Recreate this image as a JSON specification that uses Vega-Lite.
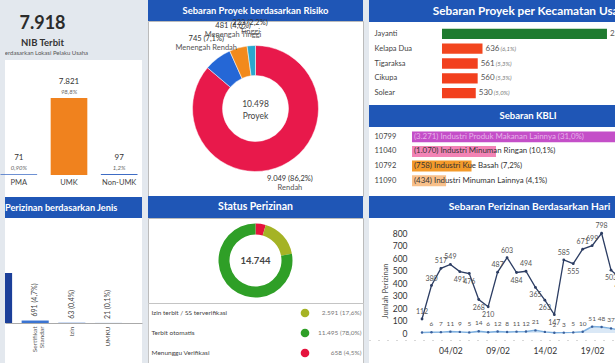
{
  "$schema": "https://vega.github.io/schema/vega-lite/v6.json",
  "background": "#e3e8ee",
  "padding": 0,
  "spacing": 5,
  "resolve": {"scale": {"color": "independent"}},
  "config": {
    "view": {"stroke": null, "fill": "white"},
    "font": "Lato",
    "axis": {"labelFont": "Lato", "titleFont": "Lato"},
    "text": {"font": "Lato"}
  },
  "hconcat": [
    {
      "bounds": "flush",
      "spacing": 0,
      "resolve": {"scale": {"color": "independent"}},
      "vconcat": [
        {
          "width": 137,
          "height": 60,
          "data": {"values": [{"angka": "7.918", "judul": "NIB Terbit", "keterangan": "Berdasarkan Lokasi Pelaku Usaha"}]},
          "layer": [
            {"mark": {"type": "text", "fontSize": 18, "fontWeight": "bold", "color": "#2b2b2b", "dx": -31, "dy": -6, "clip": true}, "encoding": {"text": {"field": "angka"}}},
            {"mark": {"type": "text", "fontSize": 9.5, "fontWeight": "bold", "color": "#333333", "dx": -31, "dy": 13, "clip": true}, "encoding": {"text": {"field": "judul"}}},
            {"mark": {"type": "text", "fontSize": 6, "color": "#555555", "dx": -29, "dy": 23, "clip": true}, "encoding": {"text": {"field": "keterangan"}}}
          ]
        },
        {
          "width": 137,
          "height": 137,
          "data": {"values": [
            {"kategori": "PMA", "jumlah": 71, "teks": "71", "persen": "0,90%"},
            {"kategori": "UMK", "jumlah": 7821, "teks": "7.821", "persen": "98,8%"},
            {"kategori": "Non-UMK", "jumlah": 97, "teks": "97", "persen": "1,2%"}
          ]},
          "encoding": {
            "x": {"field": "kategori", "type": "nominal", "sort": null, "scale": {"paddingInner": 0.27, "paddingOuter": 0}, "axis": {"title": null, "labelAngle": 0, "domain": false, "ticks": false, "labelFontSize": 7.5, "labelColor": "#444444", "labelPadding": 3, "offset": -22, "labelOffset": -4.5}},
            "y": {"field": "jumlah", "type": "quantitative", "scale": {"domain": [-2234, 11680], "nice": false, "zero": false}, "axis": null}
          },
          "layer": [
            {"mark": {"type": "bar", "xOffset": -4.5}, "encoding": {"color": {"field": "kategori", "type": "nominal", "scale": {"domain": ["PMA", "UMK", "Non-UMK"], "range": ["#3e6cc4", "#f0821e", "#3e6cc4"]}, "legend": null}}},
            {"mark": {"type": "text", "dy": -16, "dx": -4.5, "fontSize": 8, "color": "#333333"}, "encoding": {"text": {"field": "teks"}}},
            {"mark": {"type": "text", "dy": -6, "dx": -4.5, "fontSize": 6, "fontStyle": "italic", "color": "#666666"}, "encoding": {"text": {"field": "persen"}}}
          ]
        },
        {
          "width": 137,
          "height": 21,
          "view": {"fill": "#1f56b6"},
          "data": {"values": [{"judul": "Sebaran Perizinan berdasarkan Jenis"}]},
          "mark": {"type": "text", "color": "white", "fontWeight": "bold", "fontSize": 9.2, "dx": -30, "clip": true},
          "encoding": {"text": {"field": "judul"}}
        },
        {
          "width": 137,
          "height": 145,
          "data": {"values": [
            {"jenis": "Berbasis Risiko", "jumlah": 13969, "teks": "13.969 (94,7%)"},
            {"jenis": "Sertifikat Standar", "jumlah": 691, "teks": "691 (4,7%)"},
            {"jenis": "Izin", "jumlah": 63, "teks": "63 (0,4%)"},
            {"jenis": "UMKU", "jumlah": 21, "teks": "21 (0,1%)"}
          ]},
          "encoding": {
            "x": {"field": "jenis", "type": "nominal", "sort": null, "scale": {"paddingInner": 0.26, "paddingOuter": -0.18, "align": 0}, "axis": {"title": null, "values": ["Sertifikat Standar", "Izin", "UMKU"], "labelAngle": 270, "labelExpr": "split(datum.label, ' ')", "domain": true, "domainColor": "#aaaaaa", "ticks": false, "labelFontSize": 6.5, "labelColor": "#555555", "labelPadding": 3, "labelLineHeight": 7, "labelOffset": -20, "offset": -40}},
            "y": {"field": "jumlah", "type": "quantitative", "scale": {"domain": [-11176, 29336], "nice": false, "zero": false}, "axis": null}
          },
          "layer": [
            {"mark": {"type": "bar", "xOffset": -20, "clip": true}, "encoding": {"color": {"field": "jenis", "type": "nominal", "scale": {"domain": ["Berbasis Risiko", "Sertifikat Standar", "Izin", "UMKU"], "range": ["#1b3f99", "#3b74d2", "#3b74d2", "#3b74d2"]}, "legend": null}}},
            {"transform": [{"filter": "datum.jenis != 'Berbasis Risiko'"}], "mark": {"type": "text", "angle": 270, "align": "left", "baseline": "middle", "dx": 4, "xOffset": -20, "fontSize": 7, "color": "#444444", "clip": true}, "encoding": {"text": {"field": "teks"}}}
          ]
        }
      ]
    },
    {
      "bounds": "flush",
      "spacing": 0,
      "resolve": {"scale": {"color": "independent"}},
      "vconcat": [
        {
          "width": 215,
          "height": 21,
          "view": {"fill": "#1f56b6"},
          "data": {"values": [{"judul": "Sebaran Proyek berdasarkan Risiko"}]},
          "mark": {"type": "text", "color": "white", "fontWeight": "bold", "fontSize": 9.4, "clip": true},
          "encoding": {"text": {"field": "judul"}}
        },
        {
          "width": 215,
          "height": 175,
          "view": {"stroke": "#bbbbbb", "fill": "white"},
          "layer": [
            {
              "data": {"values": [
                {"risiko": "Rendah", "jumlah": 9049, "teks": "9.049 (86,2%)"},
                {"risiko": "Menengah Rendah", "jumlah": 745, "teks": "745 (7,1%)"},
                {"risiko": "Menengah Tinggi", "jumlah": 481, "teks": "481 (4,6%)"},
                {"risiko": "Tinggi", "jumlah": 223, "teks": "223 (2,2%)"}
              ]},
              "encoding": {
                "theta": {"field": "jumlah", "type": "quantitative", "stack": true},
                "order": {"field": "jumlah", "type": "quantitative", "sort": "descending"}
              },
              "layer": [
                {"mark": {"type": "arc", "innerRadius": 33, "outerRadius": 63, "stroke": "white", "strokeWidth": 0.5}, "encoding": {"color": {"field": "risiko", "type": "nominal", "scale": {"domain": ["Rendah", "Menengah Rendah", "Menengah Tinggi", "Tinggi"], "range": ["#e8194b", "#2567d6", "#f28a1c", "#2aa7cf"]}, "legend": null}}},
                {"mark": {"type": "text", "radius": 82, "fontSize": 7.5, "color": "#333333", "dy": -4}, "encoding": {"text": {"field": "teks"}}},
                {"mark": {"type": "text", "radius": 82, "fontSize": 7.5, "color": "#555555", "dy": 5}, "encoding": {"text": {"field": "risiko"}}}
              ]
            },
            {
              "data": {"values": [{"angka": "10.498", "satuan": "Proyek"}]},
              "layer": [
                {"mark": {"type": "text", "fontSize": 8.5, "color": "#444444", "dy": -5}, "encoding": {"text": {"field": "angka"}}},
                {"mark": {"type": "text", "fontSize": 8.5, "color": "#444444", "dy": 7}, "encoding": {"text": {"field": "satuan"}}}
              ]
            }
          ]
        },
        {
          "width": 215,
          "height": 22,
          "view": {"fill": "#1f56b6"},
          "data": {"values": [{"judul": "Status Perizinan"}]},
          "mark": {"type": "text", "color": "white", "fontWeight": "bold", "fontSize": 10.5, "clip": true},
          "encoding": {"text": {"field": "judul"}}
        },
        {
          "width": 215,
          "height": 85,
          "view": {"stroke": "#bbbbbb", "fill": "white"},
          "layer": [
            {
              "data": {"values": [
                {"status": "Menunggu Verifikasi", "jumlah": 658},
                {"status": "Izin terbit / SS terverifikasi", "jumlah": 2591},
                {"status": "Terbit otomatis", "jumlah": 11495}
              ]},
              "mark": {"type": "arc", "innerRadius": 26, "outerRadius": 37},
              "encoding": {
                "theta": {"field": "jumlah", "type": "quantitative", "stack": true},
                "order": {"field": "jumlah", "type": "quantitative", "sort": "ascending"},
                "color": {"field": "status", "type": "nominal", "scale": {"domain": ["Izin terbit / SS terverifikasi", "Terbit otomatis", "Menunggu Verifikasi"], "range": ["#a5b325", "#2f9f27", "#e5133d"]}, "legend": null}
              }
            },
            {
              "data": {"values": [{"angka": "14.744"}]},
              "mark": {"type": "text", "fontSize": 9.5, "fontWeight": "bold", "color": "#444444"},
              "encoding": {"text": {"field": "angka"}}
            }
          ]
        },
        {
          "width": 215,
          "height": 60,
          "view": {"stroke": "#c4c4c4", "fill": "white"},
          "data": {"values": [
            {"status": "Izin terbit / SS terverifikasi", "teks": "2.591 (17,6%)"},
            {"status": "Terbit otomatis", "teks": "11.495 (78,0%)"},
            {"status": "Menunggu Verifikasi", "teks": "658 (4,5%)"}
          ]},
          "encoding": {
            "y": {"field": "status", "type": "nominal", "sort": ["Izin terbit / SS terverifikasi", "Terbit otomatis", "Menunggu Verifikasi"], "scale": {"paddingInner": 0, "paddingOuter": 0.15}, "axis": null}
          },
          "layer": [
            {"mark": {"type": "text", "align": "left", "dx": -104, "fontSize": 6.5, "color": "#444444"}, "encoding": {"text": {"field": "status"}}},
            {"mark": {"type": "circle", "size": 75, "opacity": 1, "xOffset": 49.5}, "encoding": {"color": {"field": "status", "type": "nominal", "scale": {"domain": ["Izin terbit / SS terverifikasi", "Terbit otomatis", "Menunggu Verifikasi"], "range": ["#a5b325", "#2f9f27", "#e5133d"]}, "legend": null}}},
            {"mark": {"type": "text", "align": "right", "dx": 106, "fontSize": 6.5, "color": "#777777"}, "encoding": {"text": {"field": "teks"}}}
          ]
        }
      ]
    },
    {
      "bounds": "flush",
      "spacing": 0,
      "resolve": {"scale": {"color": "independent"}},
      "vconcat": [
        {
          "width": 253,
          "height": 22,
          "view": {"fill": "#1f56b6"},
          "data": {"values": [{"judul": "Sebaran Proyek per Kecamatan Usaha"}]},
          "mark": {"type": "text", "color": "white", "fontWeight": "bold", "fontSize": 11.8, "dx": 36.5, "clip": true},
          "encoding": {"text": {"field": "judul"}}
        },
        {
          "width": 253,
          "height": 83,
          "data": {"values": [
            {"kecamatan": "Jayanti", "jumlah": 2590, "teks": "2.590", "persen": "(24,7%)"},
            {"kecamatan": "Kelapa Dua", "jumlah": 636, "teks": "636", "persen": "(6,1%)"},
            {"kecamatan": "Tigaraksa", "jumlah": 561, "teks": "561", "persen": "(5,3%)"},
            {"kecamatan": "Cikupa", "jumlah": 560, "teks": "560", "persen": "(5,3%)"},
            {"kecamatan": "Solear", "jumlah": 530, "teks": "530", "persen": "(5,0%)"}
          ]},
          "encoding": {
            "y": {"field": "kecamatan", "type": "nominal", "sort": {"field": "jumlah", "order": "descending"}, "scale": {"paddingInner": 0.3, "paddingOuter": 0.45}, "axis": {"title": null, "domain": false, "ticks": false, "tickSize": 0, "labelAlign": "left", "labelPadding": -5, "labelFontSize": 7.5, "labelColor": "#444444"}},
            "x": {"field": "jumlah", "type": "quantitative", "scale": {"domain": [-1146, 2826], "nice": false, "zero": false}, "axis": null}
          },
          "layer": [
            {"mark": {"type": "bar", "clip": true}, "encoding": {"color": {"field": "kecamatan", "type": "nominal", "scale": {"domain": ["Jayanti", "Kelapa Dua", "Tigaraksa", "Cikupa", "Solear"], "range": ["#1e7b2f", "#f2461f", "#f2401e", "#f2401e", "#f2401e"]}, "legend": null}}},
            {"mark": {"type": "text", "align": "left", "dx": 3, "fontSize": 8, "color": "#555555", "clip": true}, "encoding": {"text": {"field": "teks"}}},
            {"mark": {"type": "text", "align": "left", "dx": 18, "fontSize": 6, "fontStyle": "italic", "color": "#777777", "clip": true}, "encoding": {"text": {"field": "persen"}}}
          ]
        },
        {
          "width": 253,
          "height": 22,
          "view": {"fill": "#1f56b6"},
          "data": {"values": [{"judul": "Sebaran KBLI"}]},
          "mark": {"type": "text", "color": "white", "fontWeight": "bold", "fontSize": 9.5, "dx": 32.5, "clip": true},
          "encoding": {"text": {"field": "judul"}}
        },
        {
          "width": 253,
          "height": 69,
          "data": {"values": [
            {"kbli": "10799", "jumlah": 3271, "teks": "(3.271) Industri Produk Makanan Lainnya (31,0%)"},
            {"kbli": "11040", "jumlah": 1070, "teks": "(1.070) Industri Minuman Ringan (10,1%)"},
            {"kbli": "10792", "jumlah": 758, "teks": "(758) Industri Kue Basah (7,2%)"},
            {"kbli": "11090", "jumlah": 434, "teks": "(434) Industri Minuman Lainnya (4,1%)"}
          ]},
          "encoding": {
            "y": {"field": "kbli", "type": "nominal", "sort": {"field": "jumlah", "order": "descending"}, "scale": {"paddingInner": 0.25, "paddingOuter": 0.49, "align": 0.31}, "axis": {"title": null, "domain": false, "ticks": false, "tickSize": 0, "labelAlign": "left", "labelPadding": -5, "labelFontSize": 7.5, "labelColor": "#444444"}}
          },
          "layer": [
            {"mark": {"type": "bar", "clip": true}, "encoding": {
              "x": {"field": "jumlah", "type": "quantitative", "scale": {"domain": [-548, 2675], "nice": false, "zero": false}, "axis": null},
              "color": {"field": "kbli", "type": "nominal", "scale": {"domain": ["10799", "11040", "10792", "11090"], "range": ["#c44fc8", "#f283b5", "#f39a2a", "#f8c08a"]}, "legend": null}}},
            {"mark": {"type": "text", "align": "left", "dx": 2, "fontSize": 7.9, "clip": true}, "encoding": {
              "x": {"datum": 0, "type": "quantitative"},
              "text": {"field": "teks"},
              "color": {"condition": {"test": "datum.kbli == '10799'", "value": "#e7b3e9"}, "value": "#333333"}}}
          ]
        },
        {
          "width": 253,
          "height": 22,
          "view": {"fill": "#1f56b6"},
          "data": {"values": [{"judul": "Sebaran Perizinan Berdasarkan Hari"}]},
          "mark": {"type": "text", "color": "white", "fontWeight": "bold", "fontSize": 10.2, "dx": 34, "clip": true},
          "encoding": {"text": {"field": "judul"}}
        },
        {
          "width": 253,
          "height": 145,
          "data": {"values": [
            {"tanggal": "2025-02-01", "seri": "Perizinan", "jumlah": 112},
            {"tanggal": "2025-02-02", "seri": "Perizinan", "jumlah": 380},
            {"tanggal": "2025-02-03", "seri": "Perizinan", "jumlah": 517},
            {"tanggal": "2025-02-04", "seri": "Perizinan", "jumlah": 549},
            {"tanggal": "2025-02-05", "seri": "Perizinan", "jumlah": 491},
            {"tanggal": "2025-02-06", "seri": "Perizinan", "jumlah": 476},
            {"tanggal": "2025-02-07", "seri": "Perizinan", "jumlah": 268},
            {"tanggal": "2025-02-08", "seri": "Perizinan", "jumlah": 210},
            {"tanggal": "2025-02-09", "seri": "Perizinan", "jumlah": 487},
            {"tanggal": "2025-02-10", "seri": "Perizinan", "jumlah": 603},
            {"tanggal": "2025-02-11", "seri": "Perizinan", "jumlah": 484},
            {"tanggal": "2025-02-12", "seri": "Perizinan", "jumlah": 494},
            {"tanggal": "2025-02-13", "seri": "Perizinan", "jumlah": 365},
            {"tanggal": "2025-02-14", "seri": "Perizinan", "jumlah": 263},
            {"tanggal": "2025-02-15", "seri": "Perizinan", "jumlah": 147},
            {"tanggal": "2025-02-16", "seri": "Perizinan", "jumlah": 585},
            {"tanggal": "2025-02-17", "seri": "Perizinan", "jumlah": 555},
            {"tanggal": "2025-02-18", "seri": "Perizinan", "jumlah": 671},
            {"tanggal": "2025-02-19", "seri": "Perizinan", "jumlah": 699},
            {"tanggal": "2025-02-20", "seri": "Perizinan", "jumlah": 798},
            {"tanggal": "2025-02-21", "seri": "Perizinan", "jumlah": 503},
            {"tanggal": "2025-02-22", "seri": "Perizinan", "jumlah": 437},
            {"tanggal": "2025-02-01", "seri": "Terverifikasi", "jumlah": 4},
            {"tanggal": "2025-02-02", "seri": "Terverifikasi", "jumlah": 6},
            {"tanggal": "2025-02-03", "seri": "Terverifikasi", "jumlah": 7},
            {"tanggal": "2025-02-04", "seri": "Terverifikasi", "jumlah": 11},
            {"tanggal": "2025-02-05", "seri": "Terverifikasi", "jumlah": 9},
            {"tanggal": "2025-02-06", "seri": "Terverifikasi", "jumlah": 5},
            {"tanggal": "2025-02-07", "seri": "Terverifikasi", "jumlah": 14},
            {"tanggal": "2025-02-08", "seri": "Terverifikasi", "jumlah": 6},
            {"tanggal": "2025-02-09", "seri": "Terverifikasi", "jumlah": 12},
            {"tanggal": "2025-02-10", "seri": "Terverifikasi", "jumlah": 8},
            {"tanggal": "2025-02-11", "seri": "Terverifikasi", "jumlah": 11},
            {"tanggal": "2025-02-12", "seri": "Terverifikasi", "jumlah": 12},
            {"tanggal": "2025-02-13", "seri": "Terverifikasi", "jumlah": 21},
            {"tanggal": "2025-02-14", "seri": "Terverifikasi", "jumlah": 9},
            {"tanggal": "2025-02-15", "seri": "Terverifikasi", "jumlah": 2},
            {"tanggal": "2025-02-16", "seri": "Terverifikasi", "jumlah": 3},
            {"tanggal": "2025-02-17", "seri": "Terverifikasi", "jumlah": 5},
            {"tanggal": "2025-02-18", "seri": "Terverifikasi", "jumlah": 10},
            {"tanggal": "2025-02-19", "seri": "Terverifikasi", "jumlah": 51},
            {"tanggal": "2025-02-20", "seri": "Terverifikasi", "jumlah": 48},
            {"tanggal": "2025-02-21", "seri": "Terverifikasi", "jumlah": 37},
            {"tanggal": "2025-02-22", "seri": "Terverifikasi", "jumlah": 22}
          ]},
          "encoding": {
            "x": {"field": "tanggal", "type": "temporal", "scale": {"type": "utc", "domain": [{"year": 2025, "month": 1, "date": 26, "hours": 9, "minutes": 22, "utc": true}, {"year": 2025, "month": 2, "date": 22, "hours": 3, "minutes": 50, "utc": true}]}, "axis": {"title": null, "format": "%d/%m", "values": [{"year": 2025, "month": 2, "date": 4, "utc": true}, {"year": 2025, "month": 2, "date": 9, "utc": true}, {"year": 2025, "month": 2, "date": 14, "utc": true}, {"year": 2025, "month": 2, "date": 19, "utc": true}], "labelFontSize": 8.5, "labelColor": "#333333", "ticks": false, "grid": false, "domainColor": "#b0b0b0", "domainDash": [1, 8], "offset": -23, "labelPadding": 6}},
            "y": {"field": "jumlah", "type": "quantitative", "scale": {"domain": [-240, 920], "nice": false, "zero": false}, "axis": {"title": "Jumlah Perizinan", "values": [0, 100, 200, 300, 400, 500, 600, 700, 800], "offset": -40, "domain": false, "ticks": false, "grid": false, "labelFontSize": 8.5, "labelColor": "#333333", "labelPadding": 2, "titleFontSize": 7.5, "titleFontWeight": "normal", "titleColor": "#555555", "titlePadding": 3}}
          },
          "layer": [
            {"transform": [{"filter": "datum.seri == 'Terverifikasi'"}], "mark": {"type": "area", "color": "#d6e6f5", "opacity": 0.9}},
            {"transform": [{"filter": "datum.seri == 'Terverifikasi'"}], "mark": {"type": "line", "color": "#7eb0e0", "strokeWidth": 1.5}},
            {"transform": [{"filter": "datum.seri == 'Terverifikasi'"}], "mark": {"type": "point", "filled": true, "size": 6, "color": "#3a5f9a", "opacity": 1}},
            {"transform": [{"filter": "datum.seri == 'Terverifikasi' && utcdate(datum.tanggal) != 1 && utcdate(datum.tanggal) != 14"}], "mark": {"type": "text", "dy": -8, "fontSize": 6.5, "color": "#555555", "clip": true}, "encoding": {"text": {"field": "jumlah", "type": "quantitative"}}},
            {"transform": [{"filter": "datum.seri == 'Perizinan'"}], "mark": {"type": "line", "color": "#2c3d63", "strokeWidth": 1.3}},
            {"transform": [{"filter": "datum.seri == 'Perizinan'"}], "mark": {"type": "point", "filled": true, "size": 8, "color": "#2c3d63", "opacity": 1}},
            {"transform": [{"filter": "datum.seri == 'Perizinan'"}, {"window": [{"op": "lag", "field": "jumlah", "as": "sebelum"}], "sort": [{"field": "tanggal"}]}, {"filter": "datum.sebelum == null || datum.jumlah >= datum.sebelum"}], "mark": {"type": "text", "dy": -7, "fontSize": 7, "color": "#555555", "clip": true}, "encoding": {"text": {"field": "jumlah", "type": "quantitative"}}},
            {"transform": [{"filter": "datum.seri == 'Perizinan'"}, {"window": [{"op": "lag", "field": "jumlah", "as": "sebelum"}], "sort": [{"field": "tanggal"}]}, {"filter": "datum.sebelum != null && datum.jumlah < datum.sebelum"}], "mark": {"type": "text", "dy": 8, "fontSize": 7, "color": "#555555", "clip": true}, "encoding": {"text": {"field": "jumlah", "type": "quantitative"}}}
          ]
        }
      ]
    }
  ]
}
